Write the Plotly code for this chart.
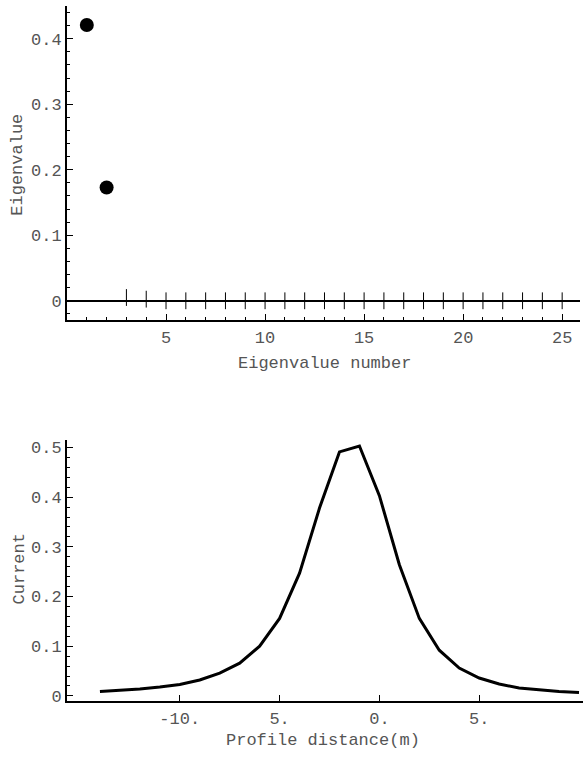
import plotly.graph_objects as go

# Top chart data: eigenvalue spectrum
eig_numbers_big = [1, 2]
eig_values_big = [0.421, 0.173]
eig_numbers_small = list(range(3, 26))
eig_values_small = [0.005, 0.0025] + [0.0] * 21

# Bottom chart data: current profile
profile_x = list(range(-14, 11))
current = [0.009, 0.011, 0.014, 0.018, 0.023, 0.032, 0.046, 0.066, 0.100, 0.156,
           0.247, 0.378, 0.491, 0.503, 0.403, 0.264, 0.156, 0.092, 0.056, 0.036,
           0.024, 0.016, 0.012, 0.009, 0.007]

top_yticks = [0, 0.1, 0.2, 0.3, 0.4]
top_xticks = [5, 10, 15, 20, 25]
bot_yticks = [0, 0.1, 0.2, 0.3, 0.4, 0.5]
bot_xticks = [-10, -5, 0, 5]
bot_xticktext = ["-10.", "5.", "0.", "5."]

FONT = "Liberation Mono"
TXT = "#555555"
W, H = 585, 757

fig = go.Figure()
fig.add_trace(go.Scatter(x=eig_numbers_big, y=eig_values_big, mode="markers",
                         marker=dict(size=14, color="black"),
                         xaxis="x", yaxis="y", showlegend=False))
fig.add_trace(go.Scatter(x=eig_numbers_small, y=eig_values_small, mode="markers",
                         marker=dict(symbol="line-ns", size=12,
                                     line=dict(width=1, color="black")),
                         xaxis="x", yaxis="y", showlegend=False))
fig.add_trace(go.Scatter(x=profile_x, y=current, mode="lines",
                         line=dict(color="black", width=3),
                         xaxis="x2", yaxis="y2", showlegend=False))

def px_x(p):
    return p / W

def px_y(p):
    return 1 - p / H

common = dict(showgrid=False, showline=True, linecolor="black", linewidth=2,
              ticks="inside", tickcolor="black", tickwidth=1, ticklen=6,
              tickfont=dict(family=FONT, size=17, color=TXT), mirror=False)

def label(text, x, y, angle=0):
    return dict(text=text, x=px_x(x), y=px_y(y), xref="paper", yref="paper",
                xanchor="center", yanchor="middle", textangle=angle,
                showarrow=False, font=dict(family=FONT, size=17, color=TXT))

fig.update_layout(
    width=W, height=H,
    margin=dict(l=0, r=0, t=0, b=0),
    paper_bgcolor="white", plot_bgcolor="white",
    xaxis=dict(domain=[px_x(67), px_x(580)], range=[0, 25.9], anchor="y",
               tickvals=top_xticks, zeroline=False,
               minor=dict(dtick=1, ticks="inside", ticklen=3, tickcolor="black"),
               **common),
    yaxis=dict(domain=[px_y(322), px_y(5)], range=[-0.03, 0.45], anchor="x",
               tickvals=top_yticks, zeroline=True, zerolinecolor="black", zerolinewidth=1.5,
               minor=dict(dtick=0.02, ticks="inside", ticklen=3, tickcolor="black"),
               **common),
    xaxis2=dict(domain=[px_x(67), px_x(583)], range=[-15.65, 10.2], anchor="y2",
                tickvals=bot_xticks, ticktext=bot_xticktext, zeroline=False,
                **common),
    yaxis2=dict(domain=[px_y(706), px_y(443)], range=[-0.011, 0.514], anchor="x2",
                tickvals=bot_yticks, zeroline=False,
                minor=dict(dtick=0.02, ticks="inside", ticklen=3, tickcolor="black"),
                **common),
    annotations=[
        label("Eigenvalue", 18, 165, -90),
        label("Eigenvalue number", 324, 365),
        label("Current", 19, 573, -90),
        label("Profile distance(m)", 323, 745),
    ],
)

fig.write_html("out.html")
